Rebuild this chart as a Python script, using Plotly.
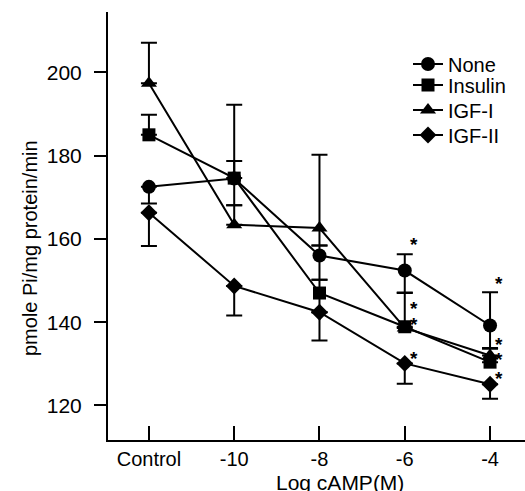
import plotly.graph_objects as go

# Phosphate uptake vs. cAMP concentration for four treatments
categories = ["Control", "-10", "-8", "-6", "-4"]

none_vals = [172.5, 174.5, 156.0, 152.4, 139.2]
insulin_vals = [185.0, 174.6, 147.0, 138.9, 130.4]
igf1_vals = [197.4, 163.4, 162.6, 138.6, 132.0]
igf2_vals = [166.3, 148.7, 142.4, 130.1, 125.1]

# one-sided / partial error bars (upper, lower)
none_up = [0, 4.2, 2.4, 3.9, 8.0]
none_dn = [4.0, 6.4, 5.8, 5.4, 5.6]
insulin_up = [4.8, 17.6, 3.2, 8.2, 0]
insulin_dn = [0, 0, 4.6, 0, 0]
igf1_up = [9.7, 4.7, 17.6, 0, 1.8]
igf1_dn = [0, 0, 4.2, 0, 0]
igf2_up = [0, 0, 0, 0, 0]
igf2_dn = [8.0, 7.1, 6.8, 4.9, 3.5]

# significance marks beside the -6 and -4 points
star_cats = ["-6", "-6", "-6", "-6", "-4", "-4", "-4", "-4"]
star_vals = [160.2, 144.7, 141.0, 132.6, 150.8, 136.2, 132.4, 127.8]

y_ticks = [120, 140, 160, 180, 200]

FONT = "Liberation Sans, Arial, sans-serif"
xpos = list(range(len(categories)))

series = [
    ("None", none_vals, none_up, none_dn, "circle", 14),
    ("Insulin", insulin_vals, insulin_up, insulin_dn, "square", 13),
    ("IGF-I", igf1_vals, igf1_up, igf1_dn, "triangle-up", 14),
    ("IGF-II", igf2_vals, igf2_up, igf2_dn, "diamond", 13),
]
legend_rows = [64, 85, 110, 135]  # pixel rows of legend entries

fig = go.Figure()
for i, (name, vals, up, dn, sym, sz) in enumerate(series):
    lname = "legend" if i == 0 else f"legend{i + 1}"
    fig.add_trace(go.Scatter(
        x=xpos, y=vals, name=name, mode="lines+markers",
        line=dict(color="black", width=2),
        marker=dict(symbol=sym, size=sz, color="black", line=dict(width=0)),
        error_y=dict(type="data", symmetric=False, array=up, arrayminus=dn,
                     color="black", thickness=2, width=8),
        legend=lname,
    ))

PLOT_L, PLOT_T, PLOT_W, PLOT_H = 108, 12, 417, 428

def px_to_paper_y(py):
    return 1 - (py - PLOT_T) / PLOT_H

legends = {}
for i, py in enumerate(legend_rows):
    key = "legend" if i == 0 else f"legend{i + 1}"
    legends[key] = dict(
        x=(408 - PLOT_L) / PLOT_W, xanchor="left",
        y=px_to_paper_y(py), yanchor="middle",
        bgcolor="rgba(0,0,0,0)", borderwidth=0,
        font=dict(family=FONT, size=20, color="black"),
    )

annotations = []
cat_index = {c: k for k, c in enumerate(categories)}
for c, v in zip(star_cats, star_vals):
    annotations.append(dict(
        x=cat_index[c], y=v, xref="x", yref="y", text="<b>*</b>",
        showarrow=False, xshift=9, yshift=-6,
        font=dict(family=FONT, size=19, color="black"),
    ))

annotations.append(dict(
    text="pmole Pi/mg protein/min", textangle=-90,
    xref="paper", yref="paper", x=(30 - PLOT_L) / PLOT_W, y=px_to_paper_y(248),
    xanchor="center", yanchor="middle", showarrow=False,
    font=dict(family=FONT, size=20, color="black"),
))
annotations.append(dict(
    text="Log cAMP(M)",
    xref="paper", yref="paper", x=(340 - PLOT_L) / PLOT_W, y=px_to_paper_y(482),
    xanchor="center", yanchor="middle", showarrow=False,
    font=dict(family=FONT, size=21, color="black"),
))

fig.update_layout(
    width=525, height=491,
    margin=dict(l=PLOT_L, r=0, t=PLOT_T, b=491 - PLOT_T - PLOT_H, pad=0),
    paper_bgcolor="white", plot_bgcolor="white",
    font=dict(family=FONT, size=20, color="black"),
    showlegend=True,
    annotations=annotations,
    **legends,
)
fig.update_xaxes(
    range=[-0.48, 4.41], tickvals=xpos, ticktext=categories,
    showgrid=False, zeroline=False, showline=True, linecolor="black", linewidth=2,
    ticks="inside", ticklen=14, tickwidth=1.5, tickcolor="black",
    tickfont=dict(family=FONT, size=20, color="black"),
)
fig.update_yaxes(
    range=[111.7, 214.5], tickvals=y_ticks,
    showgrid=False, zeroline=False, showline=True, linecolor="black", linewidth=2,
    ticks="outside", ticklen=12, tickwidth=1.5, tickcolor="black",
    ticklabelstandoff=8,
    tickfont=dict(family=FONT, size=21, color="black"),
)

fig.write_html("out.html")
